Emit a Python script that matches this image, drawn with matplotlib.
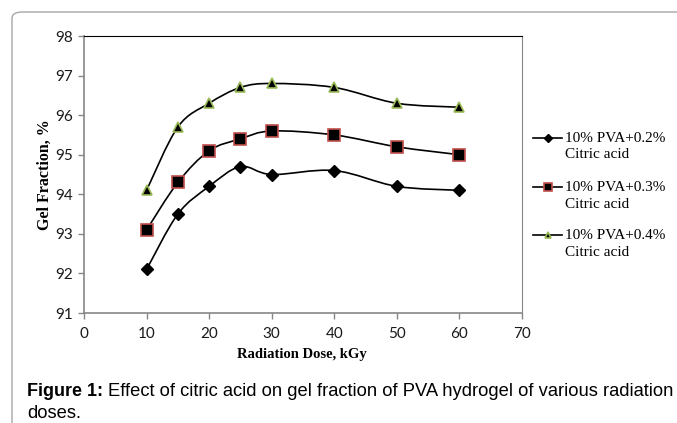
import numpy as np
import matplotlib
matplotlib.use("Agg")
import matplotlib.pyplot as plt
from matplotlib.path import Path
from matplotlib.patches import PathPatch, FancyBboxPatch
from matplotlib.lines import Line2D

# =============================
# Data
# =============================
dose = [10, 15, 20, 25, 30, 40, 50, 60]
gel_02 = [92.1, 93.5, 94.2, 94.7, 94.5, 94.6, 94.2, 94.1]
gel_03 = [93.1, 94.3, 95.1, 95.4, 95.6, 95.5, 95.2, 95.0]
gel_04 = [94.1, 95.7, 96.3, 96.7, 96.8, 96.7, 96.3, 96.2]
labels = ["10% PVA+0.2%", "10% PVA+0.3%", "10% PVA+0.4%"]

serif = "Liberation Serif"
sans = "Liberation Sans"
tickfont = "Lato"
W, H = 677, 423


def fx(px):
    return px / W


def fy(py):
    return 1 - py / H


def smooth_path(x, y):
    # Excel-style smoothed line: cubic Bezier segments through the points
    x = np.asarray(x, float)
    y = np.asarray(y, float)
    n = len(x)
    verts = [(x[0], y[0])]
    codes = [Path.MOVETO]
    for i in range(n - 1):
        p0 = np.array([x[max(i - 1, 0)], y[max(i - 1, 0)]])
        p1 = np.array([x[i], y[i]])
        p2 = np.array([x[i + 1], y[i + 1]])
        p3 = np.array([x[min(i + 2, n - 1)], y[min(i + 2, n - 1)]])
        c1 = p1 + (p2 - p0) / 6.0
        c2 = p2 - (p3 - p1) / 6.0
        verts += [tuple(c1), tuple(c2), tuple(p2)]
        codes += [Path.CURVE4] * 3
    return Path(verts, codes)


fig = plt.figure(figsize=(6.77, 4.23), dpi=100)

# rounded border of the figure panel (cut off at right and bottom)
box = FancyBboxPatch((fx(12), -0.2), 1.2, 1.2 - 12 / H,
                     boxstyle="round,pad=0,rounding_size=0.015",
                     transform=fig.transFigure, fill=False,
                     edgecolor="#a6a6a6", linewidth=1.0)
fig.patches.append(box)

ax = fig.add_axes([fx(84), fy(313), (522 - 84) / W, (313 - 36) / H])

series = [
    (gel_02, dict(marker="D", markerfacecolor="black", markeredgecolor="black"), 6, 4.5),
    (gel_03, dict(marker="s", markerfacecolor="black", markeredgecolor="#c0504d", markeredgewidth=1.2), 8, 6),
    (gel_04, dict(marker="^", markerfacecolor="black", markeredgecolor="#9bbb59", markeredgewidth=1.2), 7, 5),
]

leg_y = [138, 187, 235]
for (vals, mk, ms, lms), lab, ly in zip(series, labels, leg_y):
    ax.add_patch(PathPatch(smooth_path(dose, vals), facecolor="none", edgecolor="black",
                           linewidth=1.2, zorder=2))
    ax.plot(dose, vals, linestyle="none", markersize=ms, zorder=3, **mk)
    # legend entry, handle aligned with the first text line
    fig.add_artist(Line2D([fx(533), fx(562)], [fy(ly), fy(ly)], color="black", linewidth=1.2,
                          transform=fig.transFigure))
    fig.add_artist(Line2D([fx(548)], [fy(ly)], linestyle="none", markersize=lms,
                          transform=fig.transFigure, **mk))
    fig.text(fx(565), fy(ly), lab, fontfamily=serif, fontsize=11, va="center", ha="left")
    fig.text(fx(565), fy(ly + 17), "Citric acid", fontfamily=serif, fontsize=11, va="center", ha="left")

ax.set_xlim(0, 70)
ax.set_ylim(91, 98)
ax.set_xticks(range(0, 71, 10))
ax.set_yticks(range(91, 99))

for side in ["left", "bottom"]:
    ax.spines[side].set_color("#868686")
    ax.spines[side].set_linewidth(1.2)
ax.spines["top"].set_color("black")
ax.spines["right"].set_color("#868686")
ax.tick_params(direction="out", length=4, color="#868686", width=1.0,
               labelsize=11, labelcolor="#1a1a1a")
ax.tick_params(axis="x", pad=6)
ax.tick_params(axis="y", pad=4)
for t in ax.get_xticklabels() + ax.get_yticklabels():
    t.set_fontfamily(tickfont)

fig.text(fx(302), fy(354), "Radiation Dose, kGy", fontfamily=serif, fontweight="bold",
         fontsize=10.5, ha="center", va="center")
fig.text(fx(45), fy(175), "Gel Fraction, %", fontfamily=serif, fontweight="bold",
         fontsize=11.5, ha="center", va="center", rotation=90)

# caption
fig.text(fx(27), fy(396), "Figure 1:", fontfamily=sans, fontweight="bold",
         fontsize=13, va="baseline")
fig.text(fx(108), fy(396), "Effect of citric acid on gel fraction of PVA hydrogel of various radiation",
         fontfamily=sans, fontsize=13.2, va="baseline")
fig.text(fx(27), fy(418), "doses.", fontfamily=sans, fontsize=13.2, va="baseline")

fig.savefig("out.png", dpi=100)
